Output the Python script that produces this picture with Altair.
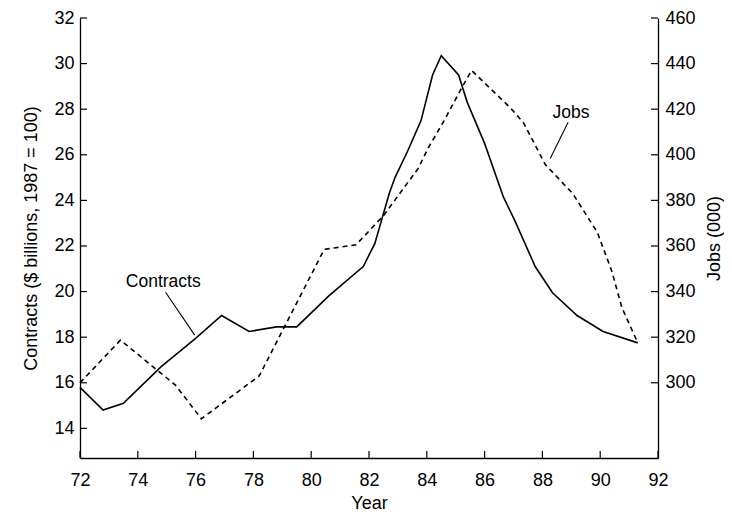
import altair as alt
import pandas as pd

# ---- data ----
contract_year = [72.0, 72.8, 73.5, 74.8, 76.0, 76.9, 77.85, 78.8, 79.5, 80.6, 81.8, 82.2,
                 82.45, 82.7, 82.9, 83.35, 83.8, 84.2, 84.5, 85.1, 85.4, 86.0, 86.65,
                 87.05, 87.75, 88.35, 89.2, 90.1, 91.3]
contract_value = [15.8, 14.8, 15.1, 16.7, 17.95, 18.95, 18.25, 18.45, 18.45, 19.8, 21.1, 22.1,
                  23.2, 24.3, 25.0, 26.2, 27.5, 29.5, 30.35, 29.5, 28.3, 26.5, 24.15,
                  23.1, 21.1, 19.95, 18.95, 18.25, 17.75]

jobs_year = [72.0, 73.4, 75.3, 76.2, 78.2, 80.45, 81.55, 82.5, 83.7, 84.05, 84.6, 85.15,
             85.55, 86.9, 87.35, 88.1, 89.05, 89.9, 90.4, 90.75, 91.3]
jobs_value = [300, 318.7, 299, 284.2, 303, 358.5, 360.5, 373.3, 394, 403, 415, 428,
              437, 420.5, 414, 395.7, 383, 366, 349, 333, 317.5]

x_ticks = [72, 74, 76, 78, 80, 82, 84, 86, 88, 90, 92]
left_ticks = [14, 16, 18, 20, 22, 24, 26, 28, 30, 32]
right_ticks = [300, 320, 340, 360, 380, 400, 420, 440, 460]

# annotation labels (text, anchor in data units) and their leader lines
contract_label = ["Contracts"]
contract_label_x = [74.88]
contract_label_y = [20.4]
contract_leader = {"x": [74.96], "y": [19.97], "x2": [75.97], "y2": [18.09]}

jobs_label = ["Jobs"]
jobs_label_x = [88.99]
jobs_label_y = [418.2]
jobs_leader = {"x": [88.89], "y": [414.3], "x2": [88.27], "y2": [398.4]}

# ---- layout / style ----
W, H = 578, 440
FONT = "Liberation Sans"
FS = 18
ANN_FS = 17.5
TICK = 7

x_scale = alt.Scale(domain=[72, 92], nice=False, zero=False)
yl_scale = alt.Scale(domain=[12.7, 32], nice=False, zero=False)
yr_scale = alt.Scale(domain=[267, 460], nice=False, zero=False)

df_c = pd.DataFrame({"year": contract_year, "value": contract_value})
df_j = pd.DataFrame({"year": jobs_year, "value": jobs_value})
df_xt = pd.DataFrame({"t": x_ticks})
df_lt = pd.DataFrame({"t": left_ticks})
df_rt = pd.DataFrame({"t": right_ticks})
df_cl = pd.DataFrame({"text": contract_label, "x": contract_label_x, "y": contract_label_y})
df_jl = pd.DataFrame({"text": jobs_label, "x": jobs_label_x, "y": jobs_label_y})
df_cr = pd.DataFrame(contract_leader)
df_jr = pd.DataFrame(jobs_leader)

x_axis = alt.Axis(title="Year", values=x_ticks, format="d", labelFlush=False,
                  labelPadding=13, titlePadding=5)
left_axis = alt.Axis(title="Contracts ($ billions, 1987 = 100)", values=left_ticks,
                     format="d", labelPadding=6, titlePadding=13)
right_axis = alt.Axis(title="Jobs (000)", values=right_ticks, format="d", orient="right",
                      labelPadding=7, titlePadding=10, titleAngle=270, titleBaseline="top")

XQ = lambda f: alt.X(f, scale=x_scale, axis=x_axis)
YL = lambda f: alt.Y(f, scale=yl_scale, axis=left_axis)
YR = lambda f: alt.Y(f, scale=yr_scale, axis=right_axis)

contracts_line = alt.Chart(df_c).mark_line(color="black", strokeWidth=1.6).encode(
    x=XQ("year:Q"), y=YL("value:Q"),
)
left_tick_rules = alt.Chart(df_lt).mark_rule(color="black", strokeWidth=1.2).encode(
    y=YL("t:Q"), x=alt.value(0), x2=alt.value(TICK),
)
x_tick_rules = alt.Chart(df_xt).mark_rule(color="black", strokeWidth=1.2).encode(
    x=XQ("t:Q"), y=alt.value(H), y2=alt.value(H - TICK),
)
contract_text = alt.Chart(df_cl).mark_text(font=FONT, fontSize=ANN_FS, color="black").encode(
    x=XQ("x:Q"), y=YL("y:Q"), text="text:N",
)
contract_lead = alt.Chart(df_cr).mark_rule(color="black", strokeWidth=1.1).encode(
    x=XQ("x:Q"), x2="x2:Q", y=YL("y:Q"), y2="y2:Q",
)

jobs_line = alt.Chart(df_j).mark_line(color="black", strokeWidth=1.6, strokeDash=[5, 4]).encode(
    x=XQ("year:Q"), y=YR("value:Q"),
)
right_tick_rules = alt.Chart(df_rt).mark_rule(color="black", strokeWidth=1.2).encode(
    y=YR("t:Q"), x=alt.value(W), x2=alt.value(W - TICK),
)
jobs_text = alt.Chart(df_jl).mark_text(font=FONT, fontSize=ANN_FS, color="black").encode(
    x=XQ("x:Q"), y=YR("y:Q"), text="text:N",
)
jobs_lead = alt.Chart(df_jr).mark_rule(color="black", strokeWidth=1.1).encode(
    x=XQ("x:Q"), x2="x2:Q", y=YR("y:Q"), y2="y2:Q",
)

left_layer = alt.layer(contracts_line, left_tick_rules, x_tick_rules, contract_text, contract_lead)
right_layer = alt.layer(jobs_line, right_tick_rules, jobs_text, jobs_lead)

chart = (
    alt.layer(left_layer, right_layer)
    .resolve_scale(y="independent")
    .properties(
        width=W, height=H,
        autosize=alt.AutoSizeParams(type="none"),
        padding={"left": 72, "top": 10, "right": 66, "bottom": 60},
        background="white",
    )
    .configure_axis(
        labelFont=FONT, titleFont=FONT, labelFontSize=FS, titleFontSize=FS,
        titleFontWeight="normal", labelColor="black", titleColor="black",
        domainColor="black", domainWidth=1.3, grid=False, ticks=False, tickSize=0,
    )
    .configure_view(stroke=None)
)

chart.save("out.html", embed_options={"renderer": "svg", "actions": False})
